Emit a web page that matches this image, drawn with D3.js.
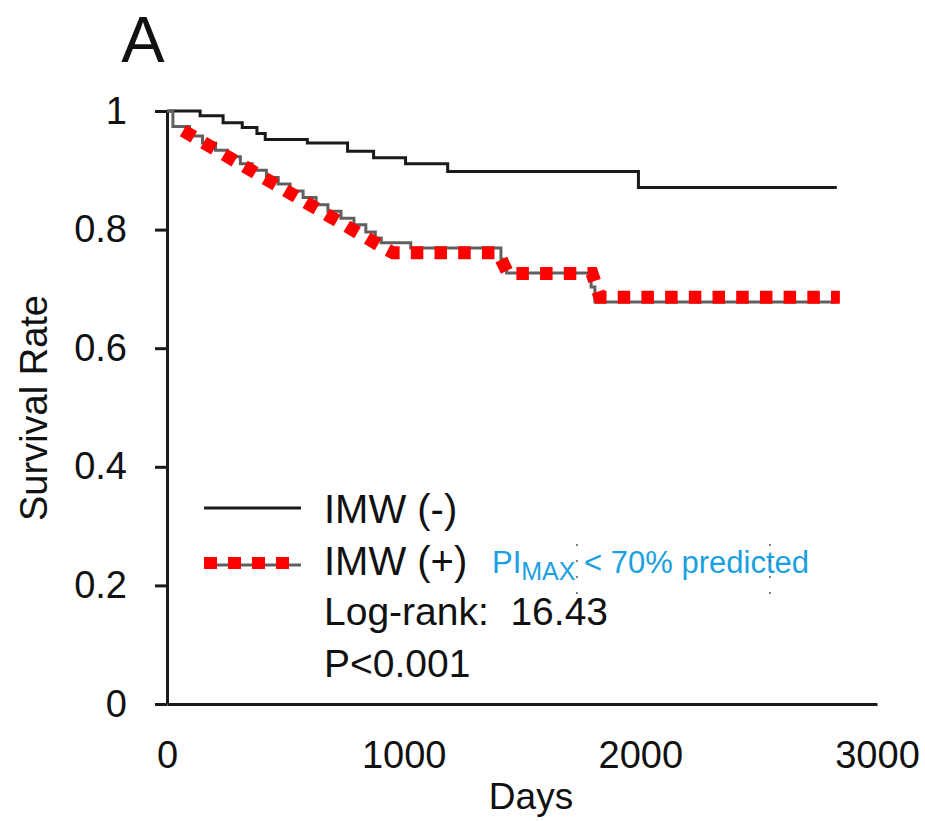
<!DOCTYPE html>
<html>
<head>
<meta charset="utf-8">
<script src="https://cdn.jsdelivr.net/npm/d3@7"></script>
<style>
  body { margin: 0; background: #fff; }
  svg { display: block; font-family: "Liberation Sans", Arial, sans-serif; }
</style>
</head>
<body>
<svg id="chart" width="925" height="821"></svg>
<script>
// Kaplan-Meier steps: [days, survival]
var imwNeg = [[0,1.0],[140,0.992],[237,0.980],[318,0.972],[380,0.962],[415,0.952],[593,0.946],[763,0.932],[873,0.921],[1008,0.911],[1186,0.898],[1992,0.871],[2830,0.871]];
var imwPos = [[0,1.0],[25,0.974],[95,0.958],[150,0.946],[205,0.934],[255,0.923],[310,0.911],[360,0.900],[420,0.888],[470,0.877],[520,0.865],[575,0.854],[630,0.842],[680,0.831],[735,0.819],[790,0.808],[840,0.796],[880,0.786],[905,0.778],[1030,0.769],[1411,0.750],[1435,0.727],[1792,0.703],[1808,0.678],[2830,0.678]];
// red dashed highlight drawn over the IMW (+) curve
var imwPosHighlight = [[68,0.967],[921,0.768],[955,0.761],[1398,0.761],[1441,0.726],[1796,0.726],[1829,0.686],[2843,0.686]];
var xTicks = [0, 1000, 2000, 3000];
var yTicks = [0, 0.2, 0.4, 0.6, 0.8, 1];
var legendLabels = ['IMW (-)', 'IMW (+)'];
var statLines = ['Log-rank:  16.43', 'P<0.001'];

var svg = d3.select('#chart');
var x = d3.scaleLinear().domain([0, 3000]).range([167, 877]);
var y = d3.scaleLinear().domain([0, 1]).range([704, 111]);

// panel letter
svg.append('text').attr('x', 143).attr('y', 62).attr('text-anchor', 'middle')
  .attr('font-size', 65).attr('fill', '#111').text('A');

// y axis
var yAxis = svg.append('g').attr('transform', 'translate(167,0)')
  .call(d3.axisLeft(y).tickValues(yTicks).tickSize(12).tickPadding(28)
    .tickSizeOuter(0).tickFormat(function(d) { return d === 0 || d === 1 ? d3.format('d')(d) : d3.format('.1f')(d); }));
yAxis.selectAll('path, line').attr('stroke', '#1a1a1a').attr('stroke-width', 3);
yAxis.selectAll('text').attr('font-size', 38).attr('fill', '#111').attr('font-family', null);

// x axis
var xAxis = svg.append('g').attr('transform', 'translate(0,704)')
  .call(d3.axisBottom(x).tickValues(xTicks).tickSize(0).tickPadding(37).tickSizeOuter(0).tickFormat(d3.format('d')));
xAxis.selectAll('path').attr('stroke', '#1a1a1a').attr('stroke-width', 3);
xAxis.selectAll('text').attr('font-size', 38).attr('fill', '#111').attr('font-family', null);

// axis titles
svg.append('text').attr('x', 531).attr('y', 809).attr('text-anchor', 'middle')
  .attr('font-size', 37).attr('fill', '#111').text('Days');
svg.append('text').attr('transform', 'translate(47,408) rotate(-90)').attr('text-anchor', 'middle')
  .attr('font-size', 38).attr('fill', '#111').text('Survival Rate');

var step = d3.line().x(function(d) { return x(d[0]); }).y(function(d) { return y(d[1]); }).curve(d3.curveStepAfter);
var straight = d3.line().x(function(d) { return x(d[0]); }).y(function(d) { return y(d[1]); });

svg.append('path').attr('d', step(imwNeg)).attr('fill', 'none')
  .attr('stroke', '#1a1a1a').attr('stroke-width', 3);
svg.append('path').attr('d', step(imwPos)).attr('fill', 'none')
  .attr('stroke', '#606060').attr('stroke-width', 3);
svg.append('path').attr('d', straight(imwPosHighlight)).attr('fill', 'none')
  .attr('stroke', '#ff0000').attr('stroke-width', 13).attr('stroke-dasharray', '12.5,11.2');

// legend
svg.append('line').attr('x1', 204).attr('x2', 301).attr('y1', 508).attr('y2', 508)
  .attr('stroke', '#1a1a1a').attr('stroke-width', 3);
svg.append('line').attr('x1', 204).attr('x2', 301).attr('y1', 565).attr('y2', 565)
  .attr('stroke', '#606060').attr('stroke-width', 3);
svg.append('line').attr('x1', 204).attr('x2', 290).attr('y1', 563).attr('y2', 563)
  .attr('stroke', '#ff0000').attr('stroke-width', 12).attr('stroke-dasharray', '13,11');

svg.selectAll('.leg').data(legendLabels).enter().append('text')
  .attr('x', 324).attr('y', function(d, i) { return 523 + i * 52; })
  .attr('font-size', 40).attr('fill', '#111').text(function(d) { return d; });

svg.selectAll('.stat').data(statLines).enter().append('text')
  .attr('x', 324).attr('y', function(d, i) { return 625 + i * 52; })
  .attr('font-size', 39).attr('fill', '#111').attr('xml:space', 'preserve')
  .style('white-space', 'pre').text(function(d) { return d; });

var note = svg.append('text').attr('x', 492).attr('y', 573).attr('font-size', 31).attr('fill', '#1a9fe0');
note.append('tspan').text('PI');
note.append('tspan').attr('font-size', 25).attr('dy', 7).text('MAX');
note.append('tspan').attr('dy', -7).text(' < 70% predicted');

// little dotted guides left over around the note
[577, 770].forEach(function(cx) {
  svg.selectAll(null).data([545, 561, 577, 593]).enter().append('circle')
    .attr('cx', cx).attr('cy', function(d) { return d; }).attr('r', 1).attr('fill', '#555');
});
</script>
</body>
</html>
